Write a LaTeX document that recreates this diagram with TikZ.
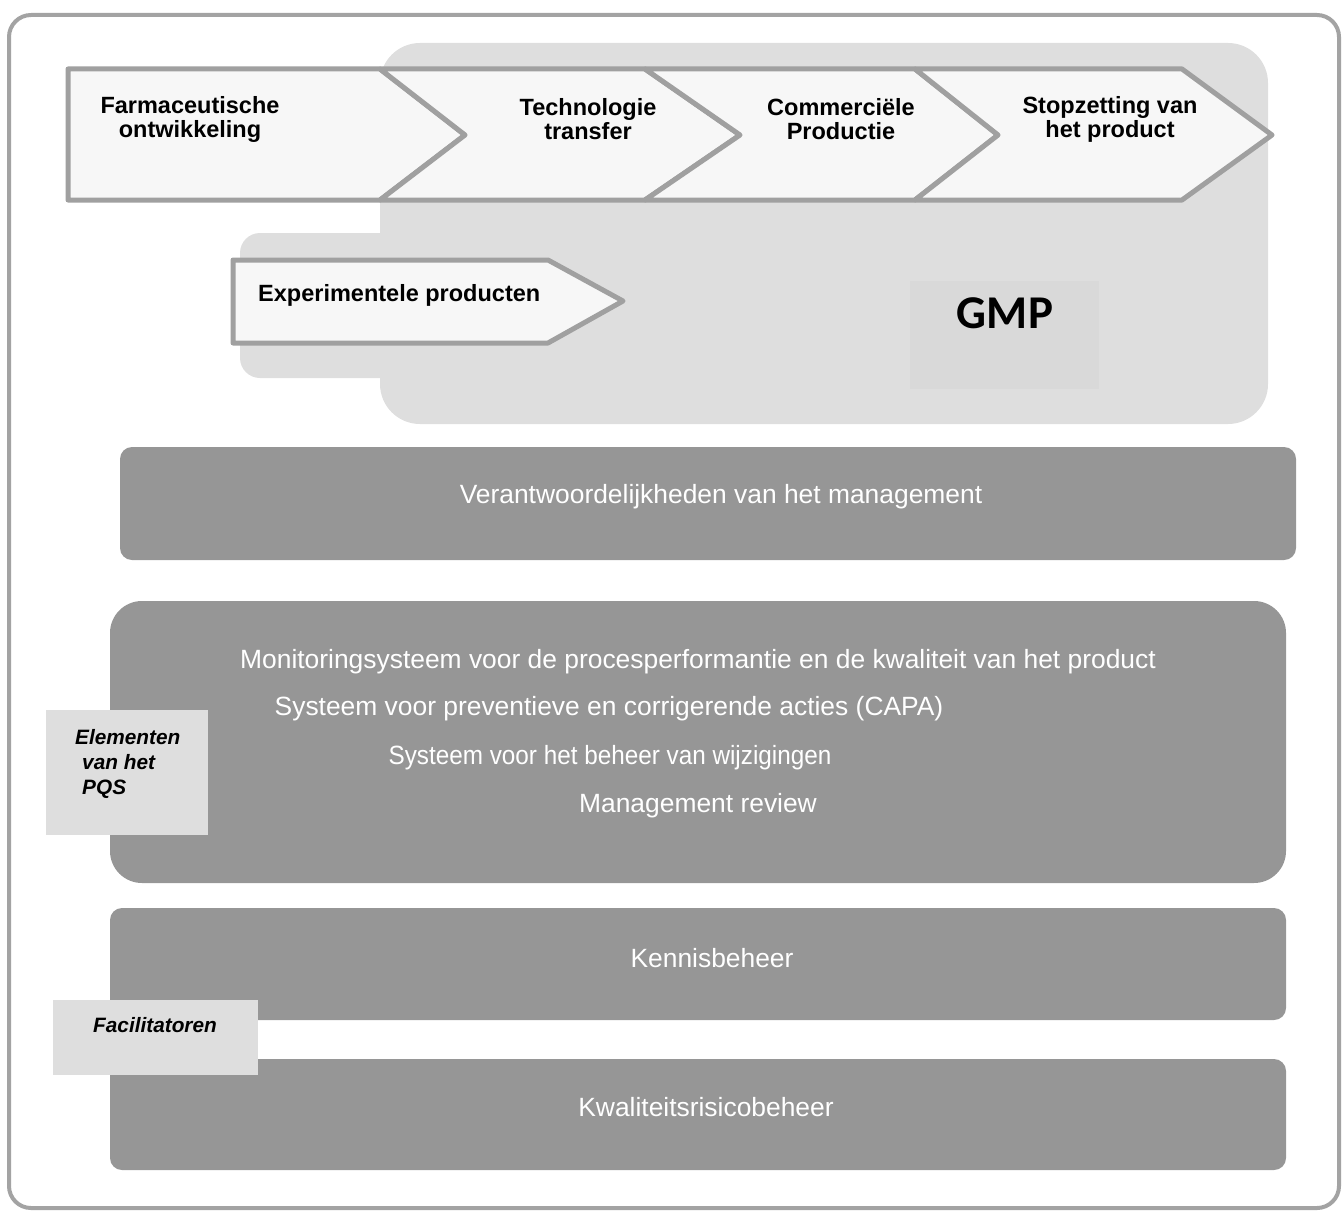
\documentclass[tikz,border=0pt]{standalone}
\usepackage{fontspec}
\usepackage{graphicx}
\setmainfont{Liberation Sans}
\newfontfamily\gmpfont{Carlito}
\definecolor{framegray}{HTML}{A3A3A3}
\definecolor{chevline}{HTML}{A0A0A0}
\definecolor{chevfill}{HTML}{F7F7F7}
\definecolor{gmpbg}{HTML}{DEDEDE}
\definecolor{gmpbox}{HTML}{D9D9D9}
\definecolor{bargray}{HTML}{969696}
\definecolor{labgray}{HTML}{DEDEDE}

\begin{document}
\begin{tikzpicture}
    [x=1pt,y=-1pt
    ,every node/.style={align=center,inner sep=0pt}
    ,chev/.style={draw=chevline,fill=chevfill,line width=5pt,line join=round}
    ,phase/.style={font=\fontsize{23.5}{24}\selectfont\bfseries}
    ,bartext/.style={text=white,font=\fontsize{26.4}{30}\selectfont}
    ,labbox/.style={fill=labgray,anchor=north west}
    ,labtext/.style={font=\fontsize{20.8}{25}\selectfont\bfseries\itshape}
    ]

    \useasboundingbox (0,0) rectangle (1343,1212);
    \draw[draw=framegray,line width=4pt,rounded corners=22pt] (9,15) rectangle (1339,1208);

    % GMP area
    \fill[gmpbg,rounded corners=20pt] (240,233) rectangle (420,378);
    \fill[gmpbg,rounded corners=40pt] (380,43) rectangle (1268,424);
    \node[fill=gmpbox,minimum width=189pt,minimum height=108pt,anchor=north west] (gmpbox) at (910,281) {};
    \node (gmp) at (1005,313) {\gmpfont\fontsize{47}{52}\selectfont\bfseries GMP};

    % lifecycle
    \draw[chev] (68,69) -- (380,69) -- (465,135) -- (380,200) -- (68,200) -- cycle;
    \draw[chev] (380,69) -- (645,69) -- (740,135) -- (645,200) -- (380,200) -- (465,135) -- cycle;
    \draw[chev] (645,69) -- (915,69) -- (998,135) -- (915,200) -- (645,200) -- (740,135) -- cycle;
    \draw[chev] (915,69) -- (1182,69) -- (1272,135) -- (1182,200) -- (915,200) -- (998,135) -- cycle;
    \draw[chev] (233,260) -- (548,260) -- (623,301) -- (548,343) -- (233,343) -- cycle;

    \node[phase] (pharm) at (190,119) {Farmaceutische\\ontwikkeling};
    \node[phase] (tech) at (588,119) {Technologie\\transfer};
    \node[phase] (comm) at (841,119) {Commerciële\\Productie};
    \node[phase] (stop) at (1110,119) {Stopzetting van\\het product};
    \node[phase,anchor=west] (exp) at (258,295) {Experimentele producten};

    % PQS bars
    \fill[bargray,rounded corners=12pt] (120,447) rectangle (1296,560);
    \fill[bargray,rounded corners=32pt] (110,601) rectangle (1286,883);
    \fill[bargray,rounded corners=12pt] (110,908) rectangle (1286,1020);
    \fill[bargray,rounded corners=12pt] (110,1059) rectangle (1286,1170);

    \node[bartext] (mgmt) at (721,497) {Verantwoordelijkheden van het management};
    \node[bartext] (monitor) at (698,662) {Monitoringsysteem voor de procesperformantie en de kwaliteit van het product};
    \node[bartext] (capa) at (609,709) {Systeem voor preventieve en corrigerende acties (CAPA)};
    \node[bartext] (change) at (610,758) {\scalebox{0.92}[1]{Systeem voor het beheer van wijzigingen}};
    \node[bartext] (review) at (698,806) {Management review};
    \node[bartext] (knowledge) at (712,958) {Kennisbeheer};
    \node[bartext] (risk) at (706,1107) {Kwaliteitsrisicobeheer};

    % side labels
    \node[labbox,minimum width=162pt,minimum height=125pt] (pqsbox) at (46,710) {};
    \node[labtext,align=left,anchor=north west] (pqs) at (75,729) {Elementen\\\hspace*{7pt}van het\\\hspace*{7pt}PQS};
    \node[labbox,minimum width=205pt,minimum height=75pt] (facbox) at (53,1000) {};
    \node[labtext] (fac) at (155,1025) {Facilitatoren};

  \end{tikzpicture}
\end{document}
